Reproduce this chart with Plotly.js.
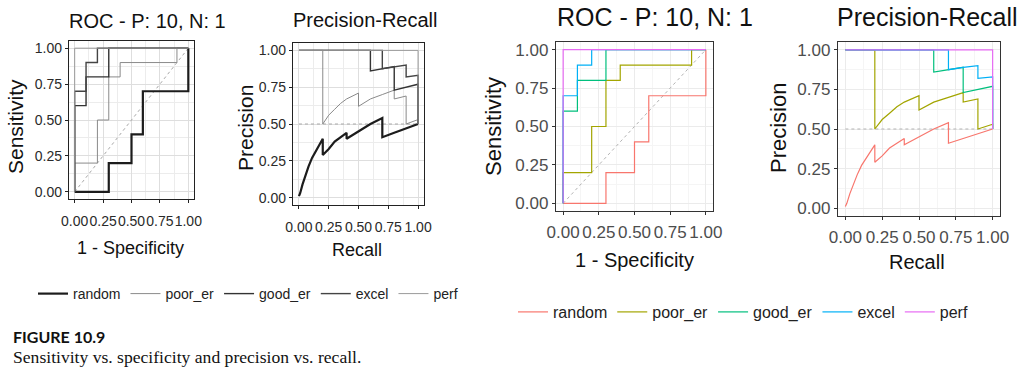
<!DOCTYPE html>
<html>
<head>
<meta charset="utf-8">
<script src="https://cdn.plot.ly/plotly-3.0.1.min.js"></script>
<style>
html,body{margin:0;padding:0;background:#fff;}
#chart{width:1024px;height:373px;}
</style>
</head>
<body>
<div id="chart"></div>
<script>
// ---- data ----
const seriesNames = ["random", "poor_er", "good_er", "excel", "perf"];

// ROC curves: false positive rate (1 - specificity) and true positive rate (sensitivity)
const rocRandomX = [0, 0.3, 0.3, 0.5, 0.5, 0.6, 0.6, 1.0, 1.0];
const rocRandomY = [0, 0, 0.2, 0.2, 0.4, 0.4, 0.7, 0.7, 1.0];
const rocPoorX = [0, 0, 0.2, 0.2, 0.3, 0.3, 0.4, 0.4, 0.9, 0.9, 1.0];
const rocPoorY = [0, 0.2, 0.2, 0.5, 0.5, 0.8, 0.8, 0.9, 0.9, 1.0, 1.0];
const rocGoodX = [0, 0, 0.1, 0.1, 0.3, 0.3, 1.0];
const rocGoodY = [0, 0.6, 0.6, 0.8, 0.8, 1.0, 1.0];
const rocExcelX = [0, 0, 0.1, 0.1, 0.2, 0.2, 1.0];
const rocExcelY = [0, 0.7, 0.7, 0.9, 0.9, 1.0, 1.0];
const rocPerfX = [0, 0, 1.0];
const rocPerfY = [0, 1.0, 1.0];
const rocDiagX = [0, 1];
const rocDiagY = [0, 1];

// Precision-recall curves
const prRandomX = [0, 0.01, 0.03, 0.05, 0.08, 0.11, 0.15, 0.2, 0.2, 0.25, 0.3, 0.35, 0.4, 0.4, 0.5, 0.6, 0.7, 0.7, 0.8, 0.9, 1.0];
const prRandomY = [0.01, 0.03, 0.09, 0.14, 0.21, 0.27, 0.33, 0.40, 0.29, 0.33, 0.38, 0.41, 0.44, 0.40, 0.45, 0.50, 0.54, 0.41, 0.44, 0.47, 0.50];
const prPoorX = [0, 0.2, 0.2, 0.25, 0.3, 0.35, 0.4, 0.45, 0.5, 0.5, 0.6, 0.7, 0.8, 0.8, 0.9, 0.9, 1.0, 1.0];
const prPoorY = [1.0, 1.0, 0.50, 0.56, 0.60, 0.64, 0.67, 0.69, 0.71, 0.62, 0.67, 0.70, 0.73, 0.67, 0.69, 0.50, 0.53, 0.50];
const prGoodX = [0, 0.6, 0.6, 0.7, 0.8, 0.8, 0.9, 1.0, 1.0];
const prGoodY = [1.0, 1.0, 0.86, 0.875, 0.89, 0.73, 0.75, 0.77, 0.50];
const prExcelX = [0, 0.7, 0.7, 0.8, 0.9, 0.9, 1.0, 1.0];
const prExcelY = [1.0, 1.0, 0.875, 0.89, 0.90, 0.82, 0.83, 0.50];
const prPerfX = [0, 1.0, 1.0];
const prPerfY = [1.0, 1.0, 0.50];
const prBaseX = [0, 1];
const prBaseY = [0.5, 0.5];

const tickVals = [0, 0.25, 0.5, 0.75, 1];
const tickLabels = ["0.00", "0.25", "0.50", "0.75", "1.00"];

// ---- styling ----
const grayStyles = [
  {color: "#1c1c1c", width: 2.2},
  {color: "#8a8a8a", width: 1},
  {color: "#333333", width: 1.4},
  {color: "#444444", width: 1.4},
  {color: "#9a9a9a", width: 1}
];
const hueColors = ["#F8766D", "#A3A500", "#00BF7D", "#00B0F6", "#E76BF3"];

const rocX = [rocRandomX, rocPoorX, rocGoodX, rocExcelX, rocPerfX];
const rocY = [rocRandomY, rocPoorY, rocGoodY, rocExcelY, rocPerfY];
const prX = [prRandomX, prPoorX, prGoodX, prExcelX, prPerfX];
const prY = [prRandomY, prPoorY, prGoodY, prExcelY, prPerfY];

const traces = [];
function addPanel(xs, ys, refX, refY, xa, ya, colored, showLeg) {
  traces.push({x: refX, y: refY, xaxis: xa, yaxis: ya, mode: "lines", showlegend: false,
    hoverinfo: "skip", line: {color: colored ? "#b3b3b3" : "#a8a8a8", width: 1, dash: "dot"}});
  for (let i = 0; i < seriesNames.length; i++) {
    const line = colored ? {color: hueColors[i], width: 1.2} : {color: grayStyles[i].color, width: grayStyles[i].width};
    traces.push({x: xs[i], y: ys[i], xaxis: xa, yaxis: ya, mode: "lines", name: seriesNames[i],
      legend: colored ? "legend2" : "legend", legendgroup: (colored ? "c" : "g") + i,
      showlegend: showLeg, line: line});
  }
}
addPanel(rocX, rocY, rocDiagX, rocDiagY, "x", "y", false, true);
addPanel(prX, prY, prBaseX, prBaseY, "x2", "y2", false, false);
addPanel(rocX, rocY, rocDiagX, rocDiagY, "x3", "y3", true, true);
addPanel(prX, prY, prBaseX, prBaseY, "x4", "y4", true, false);

const W = 1024, H = 373;
const SANS = "'Liberation Sans', Arial, sans-serif";

function axis(px0, px1, horizontal, anchor, colored) {
  const dom = horizontal ? [px0 / W, px1 / W] : [1 - px1 / H, 1 - px0 / H];
  return {
    domain: dom, anchor: anchor, range: [-0.05, 1.05],
    tickmode: "array", tickvals: tickVals, ticktext: tickLabels, tickangle: 0,
    ticks: "outside", ticklen: 3, tickwidth: 1, tickcolor: colored ? "#333" : "#222",
    ticklabelstandoff: horizontal ? (colored ? 2 : 6) : 0,
    tickfont: colored ? {family: SANS, size: 17, color: "#4d4d4d"} : {family: SANS, size: 14, color: "#2a2a2a"},
    showgrid: true, gridcolor: colored ? "#EBEBEB" : "#dedede", gridwidth: 1,
    minor: {tickvals: [0.125, 0.375, 0.625, 0.875], showgrid: true, gridcolor: colored ? "#F5F5F5" : "#ececec", gridwidth: 1, ticks: ""},
    zeroline: false, showline: true, mirror: true, linecolor: colored ? "#333" : "#222", linewidth: 1.2,
    fixedrange: true
  };
}

function ann(text, xpx, ypx, size, opts) {
  return Object.assign({text: text, xref: "paper", yref: "paper", x: xpx / W, y: 1 - ypx / H,
    xanchor: "left", yanchor: "middle", showarrow: false,
    font: {family: SANS, size: size, color: "#111"}}, opts || {});
}

const layout = {
  width: W, height: H,
  margin: {l: 0, r: 0, t: 0, b: 0},
  paper_bgcolor: "#fff", plot_bgcolor: "#fff",
  xaxis: axis(69, 194, true, "y", false),
  yaxis: axis(41, 199, false, "x", false),
  xaxis2: axis(293, 424, true, "y2", false),
  yaxis2: axis(43, 205, false, "x2", false),
  xaxis3: axis(556, 713, true, "y3", true),
  yaxis3: axis(42, 211, false, "x3", true),
  xaxis4: axis(838, 1000, true, "y4", true),
  yaxis4: axis(42, 216, false, "x4", true),
  legend: {orientation: "h", x: 33 / W, y: 1 - 294 / H, xanchor: "left", yanchor: "middle",
    font: {family: SANS, size: 14, color: "#222"}, bgcolor: "rgba(0,0,0,0)", traceorder: "normal"},
  legend2: {orientation: "h", x: 513 / W, y: 1 - 312 / H, xanchor: "left", yanchor: "middle",
    font: {family: SANS, size: 16, color: "#222"}, bgcolor: "rgba(0,0,0,0)", traceorder: "normal"},
  annotations: [
    ann("ROC - P: 10, N: 1", 67, 21, 20),
    ann("Precision-Recall", 291, 20, 20),
    ann("ROC - P: 10, N: 1", 555, 17, 25),
    ann("Precision-Recall", 835, 17, 25),
    ann("Sensitivity", 15, 127, 21, {xanchor: "center", textangle: -90}),
    ann("Precision", 245, 128, 21, {xanchor: "center", textangle: -90}),
    ann("1 - Specificity", 130, 248, 18, {xanchor: "center"}),
    ann("Recall", 357, 250, 18, {xanchor: "center"}),
    ann("Sensitivity", 493, 127, 22, {xanchor: "center", textangle: -90}),
    ann("Precision", 778, 128, 22, {xanchor: "center", textangle: -90}),
    ann("1 - Specificity", 634, 260, 20, {xanchor: "center"}),
    ann("Recall", 917, 262, 20, {xanchor: "center"}),
    ann("<b>FIGURE 10.9</b>", 11, 336, 16, {font: {family: "Lato, 'Open Sans', sans-serif", size: 16, color: "#111"}}),
    ann("Sensitivity vs. specificity and precision vs. recall.", 11, 357, 17.6, {font: {family: "'Liberation Serif', 'DejaVu Serif', serif", size: 17.6, color: "#111"}})
  ]
};

Plotly.newPlot("chart", traces, layout, {displayModeBar: false, staticPlot: true});
</script>
</body>
</html>
